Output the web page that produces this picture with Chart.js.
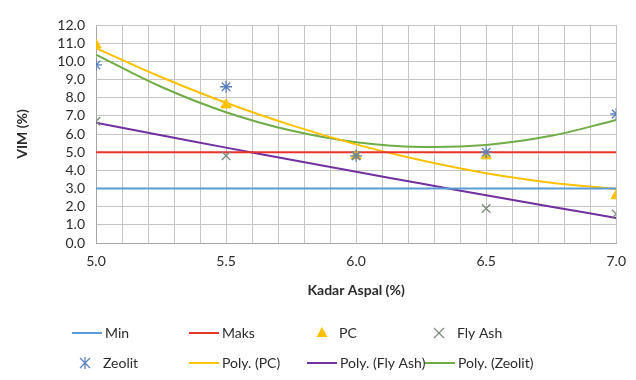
<!DOCTYPE html>
<html>
<head>
<meta charset="utf-8">
<script src="https://cdn.jsdelivr.net/npm/chart.js@4"></script>
<style>
  html, body { margin: 0; padding: 0; background: #fff; }
</style>
</head>
<body>
<canvas id="chart" width="636" height="380"></canvas>
<script>
// kadar aspal (%) per sample
const kadar = [5.0, 5.5, 6.0, 6.5, 7.0];
const vimPC = [10.9, 7.6, 4.8, 4.8, 2.6];
const vimFlyAsh = [6.7, 4.8, 4.8, 1.9, 1.6];
const vimZeolit = [9.8, 8.6, 4.8, 5.0, 7.1];

// trendline readings (poly order 2)
const kadarTrend = [5.0, 5.25, 5.5, 5.75, 6.0, 6.25, 6.5, 6.75, 7.0];
const polyPC = [10.73, 9.14, 7.72, 6.49, 5.43, 4.55, 3.84, 3.32, 2.97];
const polyFlyAsh = [6.62, 5.93, 5.25, 4.58, 3.92, 3.27, 2.63, 2.0, 1.38];
const polyZeolit = [10.37, 8.6, 7.2, 6.19, 5.55, 5.29, 5.4, 5.9, 6.77];

const batasMin = 3.0;
const batasMaks = 5.0;
const yTicks = [0, 1, 2, 3, 4, 5, 6, 7, 8, 9, 10, 11, 12];

const FONT = "Lato, 'Open Sans', sans-serif";
const pts = (xs, ys) => xs.map((x, i) => ({ x: x, y: ys[i] }));
const flat = (v) => [{ x: kadar[0], y: v }, { x: kadar[kadar.length - 1], y: v }];

const C = {
  min: "#5b9bd5",
  maks: "#e8322b",
  pc: "#ffc000",
  fly: "#7a8a78",
  zeo: "#5a7fbf",
  polyPC: "#ffc000",
  polyFly: "#7030a0",
  polyZeo: "#70ad47"
};

// legend laid out in a fixed grid like the original
const legendSlots = [
  { label: "Min", kind: "line", color: C.min, x: 72, y: 333 },
  { label: "Maks", kind: "line", color: C.maks, x: 189, y: 333 },
  { label: "PC", kind: "triangle", color: C.pc, x: 322, y: 333, tx: 339 },
  { label: "Fly Ash", kind: "x", color: C.fly, x: 439, y: 333, tx: 457 },
  { label: "Zeolit", kind: "star", color: C.zeo, x: 85, y: 363, tx: 103 },
  { label: "Poly. (PC)", kind: "line", color: C.polyPC, x: 189, y: 363 },
  { label: "Poly. (Fly Ash)", kind: "line", color: C.polyFly, x: 307, y: 363 },
  { label: "Poly. (Zeolit)", kind: "line", color: C.polyZeo, x: 425, y: 363 }
];

const gridLegend = {
  id: "gridLegend",
  afterDraw(chart) {
    const ctx = chart.ctx;
    ctx.save();
    ctx.font = "14px " + FONT;
    ctx.textBaseline = "middle";
    legendSlots.forEach(s => {
      let tx;
      ctx.strokeStyle = s.color;
      ctx.fillStyle = s.color;
      if (s.kind === "line") {
        ctx.lineWidth = 2;
        ctx.beginPath();
        ctx.moveTo(s.x, s.y);
        ctx.lineTo(s.x + 30, s.y);
        ctx.stroke();
        tx = s.x + 33;
      } else if (s.kind === "triangle") {
        ctx.beginPath();
        ctx.moveTo(s.x, s.y - 6);
        ctx.lineTo(s.x + 5.5, s.y + 4);
        ctx.lineTo(s.x - 5.5, s.y + 4);
        ctx.closePath();
        ctx.fill();
        tx = s.tx;
      } else if (s.kind === "x") {
        ctx.lineWidth = 1.2;
        ctx.beginPath();
        ctx.moveTo(s.x - 5, s.y - 5); ctx.lineTo(s.x + 5, s.y + 5);
        ctx.moveTo(s.x + 5, s.y - 5); ctx.lineTo(s.x - 5, s.y + 5);
        ctx.stroke();
        tx = s.tx;
      } else {
        ctx.lineWidth = 1.2;
        ctx.beginPath();
        ctx.moveTo(s.x - 5, s.y - 5); ctx.lineTo(s.x + 5, s.y + 5);
        ctx.moveTo(s.x + 5, s.y - 5); ctx.lineTo(s.x - 5, s.y + 5);
        ctx.moveTo(s.x, s.y - 6); ctx.lineTo(s.x, s.y + 6);
        ctx.stroke();
        tx = s.tx;
      }
      ctx.fillStyle = "#2b2b2b";
      ctx.fillText(s.label, tx, s.y);
    });
    ctx.restore();
  }
};

new Chart(document.getElementById("chart"), {
  type: "scatter",
  data: {
    datasets: [
      { label: "Min", data: flat(batasMin), showLine: true, borderColor: C.min, borderWidth: 2, pointRadius: 0, order: 2 },
      { label: "Maks", data: flat(batasMaks), showLine: true, borderColor: C.maks, borderWidth: 2, pointRadius: 0, order: 2 },
      { label: "Poly. (PC)", data: pts(kadarTrend, polyPC), showLine: true, borderColor: C.polyPC, borderWidth: 2, pointRadius: 0, tension: 0.4, order: 2 },
      { label: "Poly. (Fly Ash)", data: pts(kadarTrend, polyFlyAsh), showLine: true, borderColor: C.polyFly, borderWidth: 2, pointRadius: 0, tension: 0.4, order: 2 },
      { label: "Poly. (Zeolit)", data: pts(kadarTrend, polyZeolit), showLine: true, borderColor: C.polyZeo, borderWidth: 2, pointRadius: 0, tension: 0.4, order: 2 },
      { label: "PC", data: pts(kadar, vimPC), pointStyle: "triangle", pointRadius: 6, backgroundColor: C.pc, borderColor: C.pc, order: 1 },
      { label: "Fly Ash", data: pts(kadar, vimFlyAsh), pointStyle: "crossRot", pointRadius: 6, borderColor: C.fly, borderWidth: 1.3, order: 0 },
      { label: "Zeolit", data: pts(kadar, vimZeolit), pointStyle: "star", pointRadius: 6, borderColor: C.zeo, borderWidth: 1.3, order: 0 }
    ]
  },
  options: {
    responsive: false,
    animation: false,
    layout: { padding: { top: 25, right: 16, bottom: 77, left: 0 } },
    plugins: { legend: { display: false }, tooltip: { enabled: false } },
    scales: {
      x: {
        type: "linear",
        min: 5, max: 7,
        afterFit: s => { s.height = 60; },
        grid: { color: "#c4c4c4", drawTicks: false },
        border: { color: "#a6a6a6" },
        ticks: {
          stepSize: 0.1,
          autoSkip: false,
          maxRotation: 0,
          padding: 10,
          color: "#2b2b2b",
          font: { family: FONT, size: 14 },
          callback: v => (Math.abs(v * 2 - Math.round(v * 2)) < 1e-6 ? v.toFixed(1) : "")
        },
        title: { display: true, text: "Kadar Aspal (%)", color: "#2b2b2b", font: { family: FONT, size: 14, weight: "bold" }, padding: { top: 0, bottom: 4 } }
      },
      y: {
        min: 0, max: 12,
        afterFit: s => { s.width = 96; },
        afterBuildTicks: s => { s.ticks = yTicks.map(v => ({ value: v })); },
        grid: { color: "#c4c4c4", drawTicks: false },
        border: { color: "#a6a6a6" },
        ticks: {
          autoSkip: false,
          padding: 11,
          color: "#2b2b2b",
          font: { family: FONT, size: 14 },
          callback: v => Number(v).toFixed(1)
        },
        title: { display: true, text: "VIM (%)", color: "#2b2b2b", font: { family: FONT, size: 14, weight: "bold" }, padding: { top: 14, bottom: 0 } }
      }
    }
  },
  plugins: [gridLegend]
});
</script>
</body>
</html>
